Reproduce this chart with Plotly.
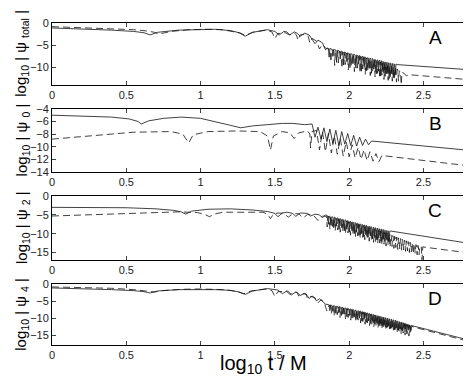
#Imports:
import plotly.graph_objects as go

#Panel A: log10 |psi total|
#smooth part before the ringing, the ringing (dip x, dip y, arch top y) and the tail
a_sol_x = [0.0, 0.2, 0.4, 0.55, 0.62, 0.66, 0.71, 0.85, 1.0, 1.1, 1.2, 1.26, 1.30, 1.35, 1.45, 1.50, 1.53, 1.56, 1.58, 1.60,
           1.63, 1.65, 1.67, 1.70, 1.73, 1.77, 1.79, 1.82, 1.84, 1.855]
a_sol_y = [-1.0, -1.2, -1.5, -1.8, -2.1, -2.6, -2.0, -1.5, -1.3, -1.3, -1.6, -2.1, -2.9, -2.0, -1.4, -1.8, -2.6, -1.8, -1.9, -2.6,
           -1.9, -2.2, -2.9, -2.2, -2.6, -4.6, -3.8, -4.4, -6.0, -5.6]
a_sol_dip_x = [1.865, 1.89, 1.915, 1.94, 1.962, 1.984, 2.005, 2.025, 2.045, 2.064, 2.082, 2.10, 2.117, 2.134, 2.15, 2.166,
               2.182, 2.197, 2.212, 2.227, 2.241, 2.255, 2.269, 2.283, 2.297, 2.31]
a_sol_dip_y = [-7.7, -7.5, -8.9, -8.1, -9.5, -8.7, -10.1, -9.2, -10.2, -9.3, -10.9, -9.8, -10.8, -10.3, -11.4, -10.4,
               -11.5, -10.9, -12.0, -11.0, -12.1, -11.5, -12.6, -11.5, -12.4, -11.8]
a_sol_top = [-5.7, -5.9, -6.1, -6.3, -6.5, -6.7, -6.9, -7.0, -7.2, -7.3, -7.5, -7.6, -7.8, -7.9, -8.0, -8.2,
             -8.3, -8.4, -8.5, -8.7, -8.8, -8.9, -9.0, -9.1, -9.2, -9.3]
a_sol_tail_x = [2.325, 2.86]
a_sol_tail_y = [-9.4, -10.7]

a_das_x = [0.0, 0.2, 0.4, 0.55, 0.64, 0.69, 0.72, 0.80, 0.92, 1.05, 1.15, 1.22, 1.27, 1.30, 1.35, 1.44, 1.48, 1.50, 1.52, 1.57,
           1.60, 1.63, 1.645, 1.655, 1.67, 1.71, 1.725, 1.735, 1.75, 1.78, 1.80, 1.82, 1.84, 1.86]
a_das_y = [-0.7, -0.9, -1.1, -1.4, -1.7, -2.0, -2.4, -1.8, -1.4, -1.3, -1.4, -1.8, -2.2, -2.7, -2.0, -1.5, -1.9, -3.4, -2.3, -2.1,
           -2.6, -2.2, -2.6, -3.8, -2.6, -2.4, -3.0, -4.4, -3.4, -4.0, -5.8, -4.8, -5.6, -5.8]
a_das_dip_x = [1.877, 1.902, 1.927, 1.951, 1.973, 1.994, 2.015, 2.035, 2.055, 2.073, 2.091, 2.108, 2.125, 2.142, 2.158,
               2.174, 2.19, 2.205, 2.22, 2.234, 2.248, 2.262, 2.276, 2.29, 2.304, 2.318, 2.332, 2.35]
a_das_dip_y = [-8.8, -9.6, -9.0, -10.2, -9.4, -10.6, -9.8, -11.0, -10.2, -11.3, -10.4, -11.6, -10.8, -11.9, -11.0,
               -12.2, -11.4, -12.5, -11.8, -12.8, -12.0, -13.0, -12.4, -13.2, -12.8, -13.4, -13.2, -14.0]
a_das_top = [-6.0, -6.2, -6.4, -6.6, -6.8, -7.0, -7.1, -7.3, -7.5, -7.6, -7.8, -7.9, -8.1, -8.2, -8.4,
             -8.5, -8.7, -8.8, -9.0, -9.1, -9.3, -9.5, -9.7, -9.9, -10.1, -10.4, -10.8, -11.2]
a_das_tail_x = [2.37, 2.385, 2.40, 2.86]
a_das_tail_y = [-11.4, -12.0, -11.7, -13.0]

#Panel B: log10 |psi 0|
b_sol_x = [0.0, 0.2, 0.4, 0.52, 0.58, 0.60, 0.65, 0.75, 0.87, 1.0, 1.1, 1.2, 1.27, 1.35, 1.45, 1.55, 1.62, 1.70, 1.75,
           1.77, 1.79, 1.81, 1.83, 1.85, 1.87, 1.89, 1.91, 1.93, 1.95, 1.97, 1.99, 2.01, 2.03, 2.05, 2.07, 2.09, 2.11,
           2.13, 2.15, 2.86]
b_sol_y = [-5.0, -5.1, -5.3, -5.6, -6.0, -6.4, -5.9, -5.5, -5.3, -5.5, -6.0, -6.6, -7.0, -6.7, -6.5, -6.3, -6.3, -6.5, -6.4,
           -8.5, -6.9, -8.8, -7.0, -9.2, -7.2, -9.5, -7.4, -9.8, -7.6, -9.6, -7.9, -9.8, -8.2, -9.9, -8.5, -9.8, -8.8,
           -9.7, -9.1, -10.7]
b_das_x = [0.0, 0.3, 0.55, 0.80, 0.88, 0.92, 0.95, 1.05, 1.25, 1.40, 1.45, 1.47, 1.49, 1.55, 1.60, 1.63, 1.66, 1.72, 1.735,
           1.74, 1.75, 1.78,
           1.80, 1.82, 1.84, 1.86, 1.88, 1.90, 1.92, 1.94, 1.96, 1.98, 2.00, 2.02, 2.04, 2.06, 2.08, 2.10, 2.12, 2.14,
           2.16, 2.18, 2.20, 2.22, 2.86]
b_das_y = [-8.8, -8.2, -7.7, -7.6, -8.0, -9.4, -8.1, -7.6, -7.5, -7.6, -8.3, -10.5, -8.3, -7.6, -7.8, -8.7, -7.8, -7.5, -8.0,
           -10.2, -7.6, -7.4,
           -10.5, -7.6, -10.8, -7.9, -11.0, -8.3, -11.2, -8.7, -11.5, -9.2, -11.6, -9.7, -11.8, -10.1, -12.0, -10.5, -12.2, -10.8,
           -12.3, -11.1, -12.4, -11.4, -13.2]

#Panel C: log10 |psi 2|
c_sol_x = [0.0, 0.3, 0.5, 0.7, 0.82, 0.87, 0.90, 0.94, 1.05, 1.2, 1.35, 1.45, 1.50, 1.52, 1.55, 1.58, 1.62, 1.64, 1.67,
           1.72, 1.74, 1.77, 1.80, 1.82, 1.84, 1.853]
c_sol_y = [-3.0, -3.0, -3.1, -3.4, -3.8, -4.2, -4.8, -4.0, -3.5, -3.4, -3.7, -4.1, -4.6, -5.5, -4.5, -4.3, -4.6, -5.4, -4.5,
           -4.6, -5.3, -4.8, -5.0, -5.8, -5.0, -5.2]
c_sol_dip_x = [1.86, 1.878, 1.896, 1.914, 1.932, 1.95, 1.967, 1.984, 2.001, 2.018, 2.034, 2.05, 2.066, 2.082, 2.097,
               2.112, 2.127, 2.142, 2.157, 2.171, 2.185, 2.199, 2.213, 2.227, 2.241, 2.255, 2.268]
c_sol_dip_y = [-7.5, -7.8, -8.4, -8.0, -8.8, -8.4, -9.2, -8.8, -9.6, -9.2, -10.0, -9.6, -10.4, -10.0, -10.8,
               -10.3, -11.0, -10.6, -11.4, -11.0, -11.6, -11.2, -11.9, -11.5, -12.1, -11.8, -12.2]
c_sol_top = [-5.3, -5.5, -5.6, -5.8, -6.0, -6.2, -6.3, -6.5, -6.7, -6.9, -7.0, -7.2, -7.4, -7.5, -7.7,
             -7.8, -8.0, -8.1, -8.3, -8.4, -8.5, -8.7, -8.8, -8.9, -9.1, -9.2, -9.3]
c_sol_tail_x = [2.28, 2.86]
c_sol_tail_y = [-9.3, -12.9]

c_das_x = [0.0, 0.3, 0.6, 0.85, 0.98, 1.03, 1.06, 1.09, 1.15, 1.30, 1.42, 1.45, 1.47, 1.49, 1.52, 1.56, 1.59, 1.62, 1.66,
           1.69, 1.72, 1.76, 1.79, 1.82, 1.84]
c_das_y = [-5.3, -4.9, -4.5, -4.2, -4.4, -4.9, -5.5, -4.8, -4.3, -4.2, -4.3, -4.8, -6.0, -4.8, -4.5, -4.6, -5.6, -4.7, -4.7,
           -5.8, -4.9, -5.1, -6.5, -5.3, -5.4]
c_das_dip_x = [1.852, 1.87, 1.888, 1.906, 1.923, 1.94, 1.958, 1.975, 1.992, 2.009, 2.026, 2.042, 2.058, 2.074, 2.09,
               2.105, 2.12, 2.135, 2.15, 2.164, 2.178, 2.192, 2.206, 2.22, 2.234, 2.248, 2.262, 2.275, 2.288, 2.301,
               2.314, 2.327, 2.34, 2.353, 2.366, 2.379, 2.392, 2.405, 2.418, 2.431, 2.444, 2.457, 2.47, 2.49]
c_das_dip_y = [-8.2, -8.8, -8.6, -9.2, -9.0, -9.6, -9.4, -10.0, -9.8, -10.4, -10.2, -10.8, -10.6, -11.2, -11.0,
               -11.6, -11.4, -12.0, -11.8, -12.3, -12.1, -12.6, -12.5, -13.0, -12.8, -13.3, -13.1, -13.6, -13.4, -13.9,
               -13.7, -14.2, -14.0, -14.4, -14.3, -14.7, -14.6, -15.0, -14.9, -15.3, -15.2, -15.6, -15.6, -16.9]
c_das_top = [-5.4, -5.6, -5.8, -6.0, -6.1, -6.3, -6.5, -6.7, -6.9, -7.0, -7.2, -7.4, -7.5, -7.7, -7.9,
             -8.0, -8.2, -8.4, -8.5, -8.7, -8.9, -9.1, -9.3, -9.5, -9.7, -9.9, -10.1, -10.3, -10.5, -10.7,
             -10.9, -11.1, -11.3, -11.5, -11.7, -11.9, -12.1, -12.3, -12.5, -12.7, -12.9, -13.1, -13.3, -13.5]
c_das_tail_x = [2.51, 2.86]
c_das_tail_y = [-13.6, -15.4]

#Panel D: log10 |psi 4|
d_sol_x = [0.0, 0.2, 0.4, 0.55, 0.62, 0.66, 0.71, 0.85, 1.0, 1.1, 1.2, 1.26, 1.30, 1.35, 1.45, 1.52, 1.55, 1.58, 1.59,
           1.61, 1.64, 1.65, 1.67, 1.70, 1.71, 1.73, 1.75, 1.76, 1.78, 1.80, 1.82, 1.84, 1.86]
d_sol_y = [-1.1, -1.3, -1.6, -1.9, -2.2, -2.6, -2.0, -1.6, -1.5, -1.6, -1.8, -2.3, -3.0, -2.0, -1.3, -1.7, -2.8, -2.0, -2.1,
           -3.2, -2.3, -2.4, -3.3, -2.7, -2.9, -4.2, -3.5, -3.7, -4.9, -4.3, -5.0, -5.9, -6.0]
d_sol_dip_x = [1.87, 1.89, 1.91, 1.929, 1.948, 1.966, 1.984, 2.002, 2.019, 2.036, 2.053, 2.069, 2.085, 2.1, 2.115,
               2.13, 2.145, 2.159, 2.173, 2.187, 2.201, 2.214, 2.227, 2.24, 2.253, 2.266, 2.279, 2.292, 2.305, 2.318,
               2.331, 2.344, 2.357, 2.37, 2.383, 2.396, 2.41]
d_sol_dip_y = [-7.8, -8.0, -8.6, -8.4, -9.2, -8.8, -9.6, -9.2, -10.0, -9.6, -10.4, -10.0, -10.8, -10.4, -11.2,
               -10.8, -11.6, -11.0, -11.8, -11.4, -12.2, -11.8, -12.5, -12.0, -12.8, -12.3, -13.1, -12.6, -13.4, -12.8,
               -13.6, -13.2, -13.8, -13.4, -14.0, -13.6, -14.2]
d_sol_top = [-6.1, -6.3, -6.5, -6.6, -6.8, -7.0, -7.1, -7.3, -7.4, -7.6, -7.8, -7.9, -8.1, -8.2, -8.4,
             -8.6, -8.8, -8.9, -9.1, -9.3, -9.4, -9.6, -9.7, -9.9, -10.0, -10.2, -10.3, -10.5, -10.6, -10.8,
             -11.0, -11.2, -11.3, -11.5, -11.7, -11.9, -12.1]
d_sol_tail_x = [2.42, 2.86]
d_sol_tail_y = [-12.2, -17.1]

d_das_x = [0.0, 0.2, 0.4, 0.55, 0.64, 0.69, 0.74, 0.88, 1.0, 1.15, 1.24, 1.29, 1.34, 1.44, 1.48, 1.50, 1.52, 1.58, 1.60,
           1.63, 1.65, 1.66, 1.68, 1.71, 1.72, 1.74, 1.77, 1.79, 1.81, 1.83, 1.85, 1.865]
d_das_y = [-0.8, -1.0, -1.2, -1.6, -2.0, -2.3, -1.9, -1.5, -1.4, -1.6, -2.1, -2.8, -2.0, -1.4, -1.9, -3.6, -2.2, -2.1, -3.0,
           -2.3, -2.5, -3.5, -2.7, -3.0, -4.3, -3.6, -4.0, -5.5, -4.6, -5.2, -7.9, -6.2]
d_das_dip_x = [1.88, 1.90, 1.92, 1.938, 1.957, 1.975, 1.993, 2.01, 2.027, 2.044, 2.061, 2.077, 2.092, 2.107, 2.122,
               2.137, 2.152, 2.166, 2.18, 2.194, 2.207, 2.22, 2.233, 2.246, 2.259, 2.272, 2.285, 2.298, 2.311, 2.324,
               2.337, 2.35, 2.363, 2.376, 2.389, 2.402, 2.415]
d_das_dip_y = [-8.6, -9.4, -9.0, -9.8, -9.4, -10.2, -9.8, -10.6, -10.2, -11.0, -10.6, -11.4, -11.0, -11.8, -11.4,
               -12.2, -11.8, -12.6, -12.2, -12.9, -12.6, -13.2, -12.9, -13.5, -13.2, -13.8, -13.5, -14.1, -13.8, -14.4,
               -14.1, -14.7, -14.4, -15.0, -14.7, -15.3, -14.3]
d_das_top = [-6.4, -6.6, -6.8, -6.9, -7.1, -7.3, -7.4, -7.6, -7.7, -7.9, -8.1, -8.2, -8.4, -8.5, -8.7,
             -8.9, -9.1, -9.2, -9.4, -9.6, -9.7, -9.9, -10.0, -10.2, -10.3, -10.5, -10.6, -10.8, -10.9, -11.1,
             -11.3, -11.5, -11.6, -11.8, -12.0, -12.2, -12.4]
d_das_tail_x = [2.43, 2.86]
d_das_tail_y = [-12.6, -17.5]

panel_letters = ["A", "B", "C", "D"]
sp = "\u00a0"
y_titles = ["log<sub>10</sub>" + sp + "|" + sp + "\u03c8" + sp + "<sub>total</sub>" + sp + "|",
            "log<sub>10</sub>" + sp + "|" + sp + "\u03c8" + sp + "<sub>0</sub>" + sp + "|",
            "log<sub>10</sub>" + sp + "|" + sp + "\u03c8" + sp + "<sub>2</sub>" + sp + "|",
            "log<sub>10</sub>" + sp + "|" + sp + "\u03c8" + sp + "<sub>4</sub>" + sp + "|"]
y_ranges = [[-14, 0.2], [-14, -4], [-17, 0], [-18, 0]]
y_dticks = [5, 2, 5, 5]
x_ticks = [0, 0.5, 1, 1.5, 2, 2.5]

#half width of a ringing dip (in log10 t)
SPIKE_W = 0.005


def ringing(x0, y0, dip_x, dip_y, top, tail_x, tail_y):
    #join the smooth part, the narrow dips and the tail into one line
    xs, ys = list(x0), list(y0)
    for dx, dy, t in zip(dip_x, dip_y, top):
        xs += [dx - SPIKE_W, dx, dx + SPIKE_W]
        ys += [t, dy, t]
    return xs + tail_x, ys + tail_y


a_s = ringing(a_sol_x, a_sol_y, a_sol_dip_x, a_sol_dip_y, a_sol_top, a_sol_tail_x, a_sol_tail_y)
a_d = ringing(a_das_x, a_das_y, a_das_dip_x, a_das_dip_y, a_das_top, a_das_tail_x, a_das_tail_y)
c_s = ringing(c_sol_x, c_sol_y, c_sol_dip_x, c_sol_dip_y, c_sol_top, c_sol_tail_x, c_sol_tail_y)
c_d = ringing(c_das_x, c_das_y, c_das_dip_x, c_das_dip_y, c_das_top, c_das_tail_x, c_das_tail_y)
d_s = ringing(d_sol_x, d_sol_y, d_sol_dip_x, d_sol_dip_y, d_sol_top, d_sol_tail_x, d_sol_tail_y)
d_d = ringing(d_das_x, d_das_y, d_das_dip_x, d_das_dip_y, d_das_top, d_das_tail_x, d_das_tail_y)

series = [(a_s, a_d), ((b_sol_x, b_sol_y), (b_das_x, b_das_y)), (c_s, c_d), (d_s, d_d)]

#pixel rows (top, bottom) of each panel in a 381 px tall figure
H = 381
rows = [(9, 73), (98, 163), (188, 254), (279, 342)]

fig = go.Figure()
font = "Liberation Sans, Arial, sans-serif"

for i, (sol, das) in enumerate(series):
    n = "" if i == 0 else str(i + 1)
    fig.add_trace(go.Scatter(x=das[0], y=das[1], mode="lines", xaxis="x" + n, yaxis="y" + n,
                             line=dict(color="#111", width=0.8, dash="7px,4px")))
    fig.add_trace(go.Scatter(x=sol[0], y=sol[1], mode="lines", xaxis="x" + n, yaxis="y" + n,
                             line=dict(color="#111", width=0.8)))
    top, bot = rows[i]
    dom = [1 - bot / H, 1 - top / H]
    fig.layout["xaxis" + n] = dict(domain=[0, 1], anchor="y" + n, range=[0, 2.86], tickvals=x_ticks,
                                   ticks="inside", ticklen=4, mirror="allticks", showline=True,
                                   linecolor="black", linewidth=1, showgrid=False, zeroline=False,
                                   tickfont=dict(size=11, color="#222"))
    fig.layout["yaxis" + n] = dict(domain=dom, anchor="x" + n, range=y_ranges[i], dtick=y_dticks[i],
                                   ticks="inside", ticklen=4, mirror="allticks", showline=True,
                                   linecolor="black", linewidth=1, showgrid=False, zeroline=False,
                                   tickfont=dict(size=11, color="#222"))
    #panel letter
    fig.add_annotation(text=panel_letters[i], xref="paper", yref="paper", x=(427 - 44) / 425,
                       y=1 - (top + 15) / H, showarrow=False, font=dict(size=19, color="black"),
                       xanchor="center", yanchor="middle")
    #y title
    fig.add_annotation(text=y_titles[i], xref="paper", yref="paper", x=-30 / 425,
                       y=1 - (top + bot) / 2 / H, showarrow=False, textangle=-90,
                       font=dict(size=15, color="black"), xanchor="center", yanchor="middle")

#x title
fig.add_annotation(text="log<sub>10</sub> t / M", xref="paper", yref="paper", x=(255 - 44) / 425,
                   y=1 - 362 / H, showarrow=False, font=dict(size=20, color="black"),
                   xanchor="center", yanchor="middle")

fig.update_layout(width=471, height=381, showlegend=False, plot_bgcolor="white", paper_bgcolor="white",
                  margin=dict(l=44, r=2, t=0, b=0), font=dict(family=font))
fig.write_html("out.html")
